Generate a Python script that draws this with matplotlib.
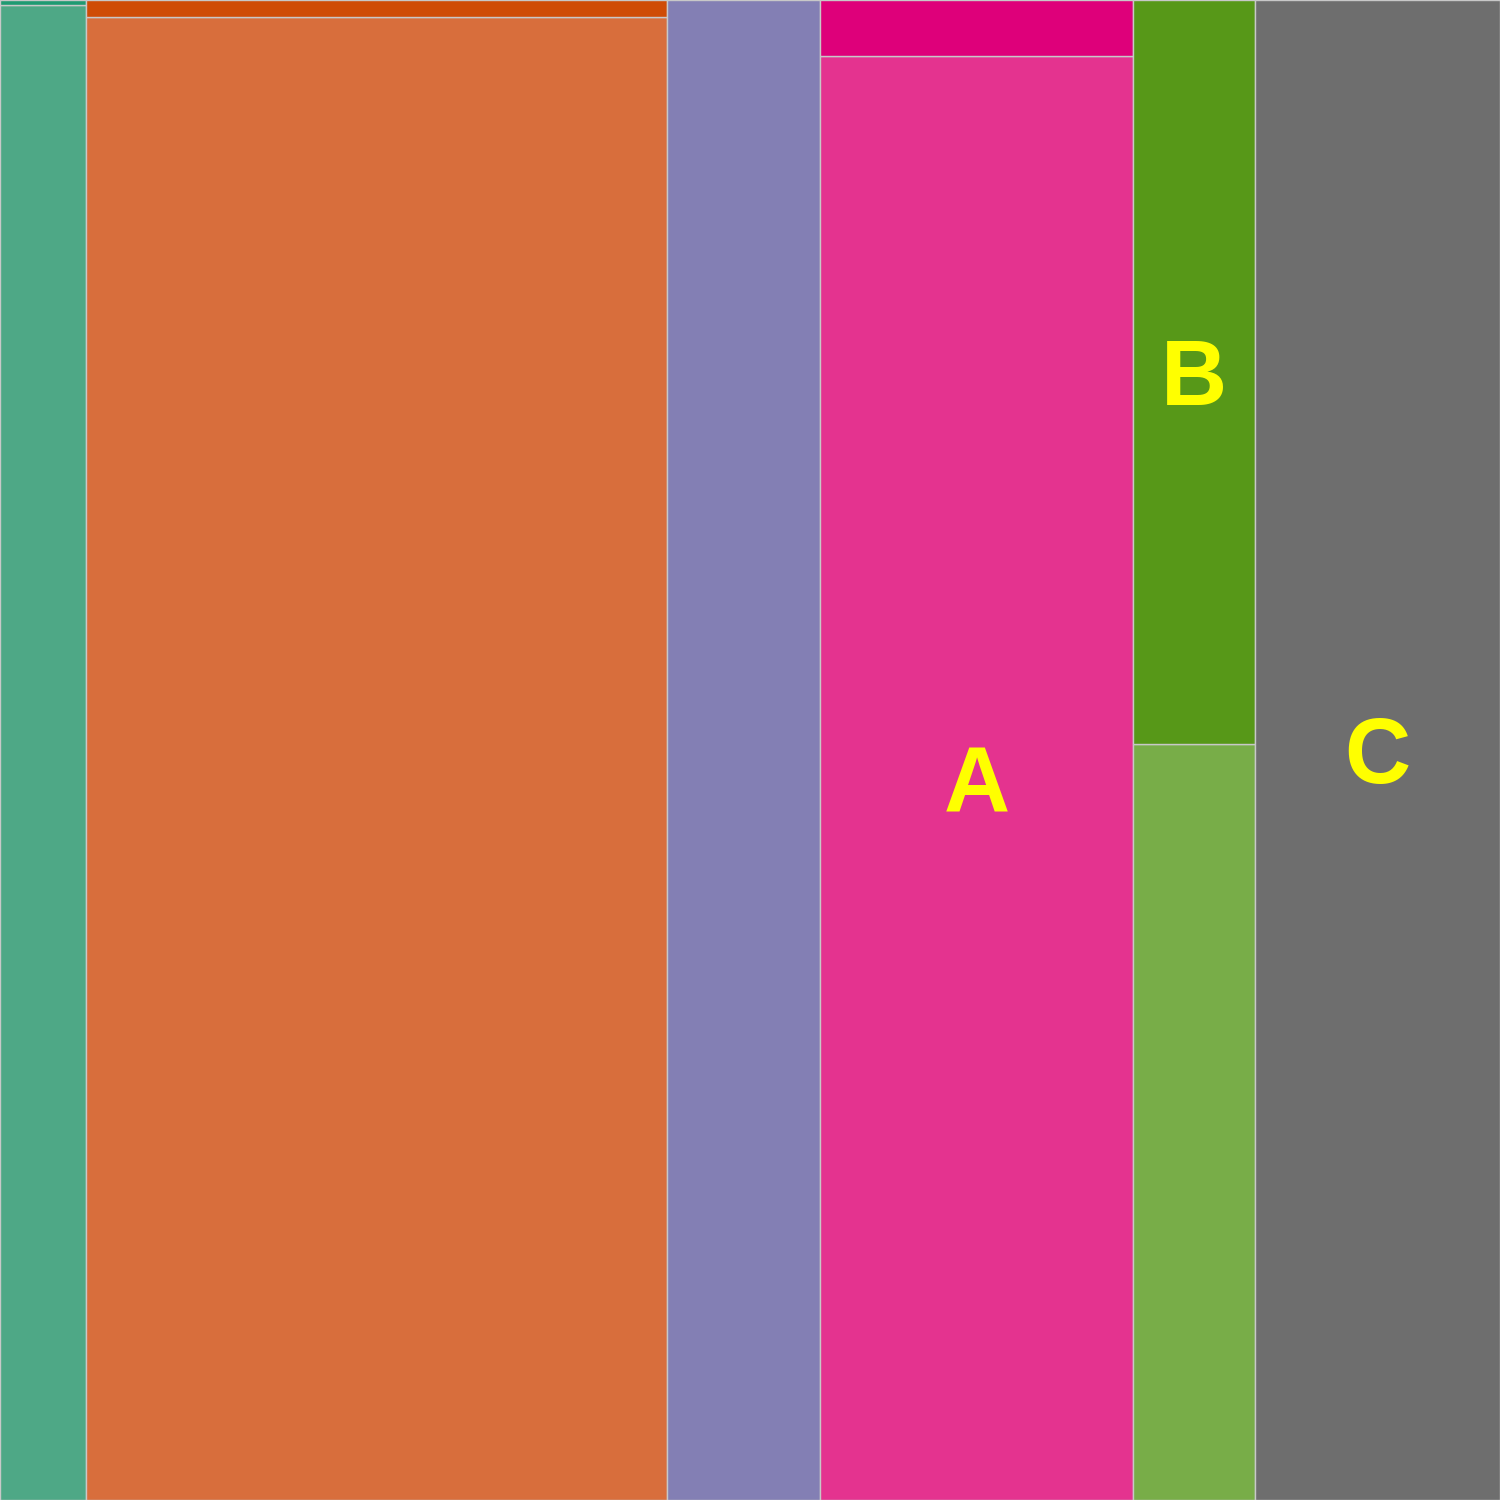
import matplotlib

matplotlib.use("Agg")
import matplotlib.pyplot as plt
from matplotlib.transforms import offset_copy

# Column totals (widths) and share of the small upper segment in each column
groups = ["g1", "g2", "g3", "g4", "g5", "g6"]
totals = [86, 581, 153, 313, 122, 245]
upper_share = [0.003, 0.011, 0.0, 0.037, 0.496, 0.0]

lower_colors = ["#4ea886", "#d86e3c", "#837fb4", "#e4338f", "#78ad48", "#6e6e6e"]
upper_colors = ["#1f9a72", "#cf4c06", "#837fb4", "#de007a", "#579818", "#6e6e6e"]

# (column index, segment, label)
labels = [(3, "lower", "A"), (4, "upper", "B"), (5, "lower", "C")]

EDGE = "#c8c8c8"
LABEL_SIZE = 66
CAP = 0.729  # cap height of Liberation Sans Bold, in em

fig = plt.figure(figsize=(15, 15), dpi=100)
ax = fig.add_axes([0, 0, 1, 1])

lefts = []
x = 0
for t in totals:
    lefts.append(x)
    x += t

for i in range(len(groups)):
    low = 1 - upper_share[i]
    ax.bar(lefts[i], low, width=totals[i], bottom=0, align="edge",
           color=lower_colors[i], edgecolor=EDGE, linewidth=1)
    if upper_share[i] > 0:
        ax.bar(lefts[i], upper_share[i], width=totals[i], bottom=low,
               align="edge", color=upper_colors[i], edgecolor=EDGE, linewidth=1)

# centre the capital letters (not the text bbox) on each segment
trans = offset_copy(ax.transData, fig=fig, y=-CAP * LABEL_SIZE / 2, units="points")
for i, seg, txt in labels:
    low = 1 - upper_share[i]
    cx = lefts[i] + totals[i] / 2
    cy = low / 2 if seg == "lower" else low + upper_share[i] / 2
    ax.text(cx, cy, txt, ha="center", va="baseline", fontsize=LABEL_SIZE,
            fontweight="bold", color="#ffff00", family="Liberation Sans",
            transform=trans)

ax.set_xlim(0, sum(totals))
ax.set_ylim(0, 1)
ax.axis("off")

fig.savefig("out.png", dpi=100)
plt.close(fig)
